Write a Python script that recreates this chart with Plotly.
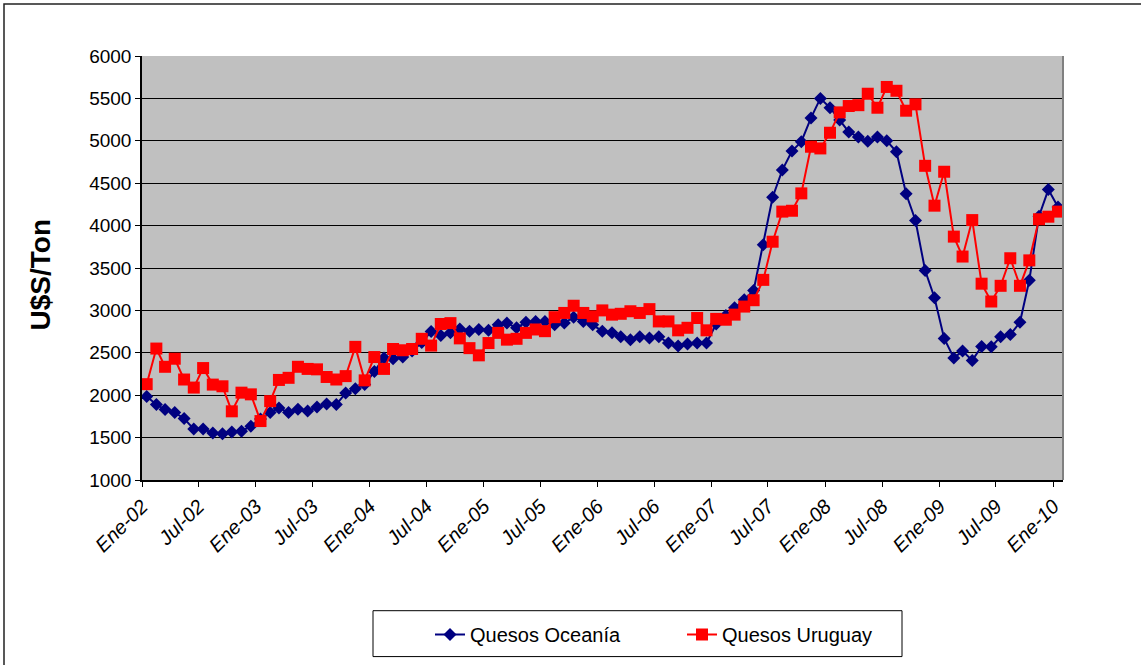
import pandas as pd
import plotly.graph_objects as go

# Monthly series Jan-2002 .. Jan-2010 (97 months)
months = pd.date_range("2002-01-01", periods=97, freq="MS")

oceania = [
    1985, 1890, 1830, 1795, 1725, 1600, 1600, 1555, 1545, 1565, 1575, 1635,
    1720, 1795, 1850, 1795, 1835, 1815, 1860, 1895, 1890, 2025, 2075, 2125,
    2280, 2440, 2430, 2450, 2520, 2620, 2750, 2705, 2735, 2780, 2755, 2775,
    2765, 2830, 2850, 2795, 2860, 2870, 2870, 2830, 2850, 2920, 2870, 2830,
    2755, 2735, 2690, 2655, 2690, 2675, 2690, 2615, 2580, 2605, 2615, 2615,
    2840, 2940, 3030, 3125, 3235, 3775, 4335, 4655, 4880, 4990, 5270, 5500,
    5390, 5245, 5105, 5045, 4995, 5045, 5000, 4870, 4375, 4060, 3470, 3150,
    2670, 2440, 2520, 2410, 2575, 2570, 2690, 2715, 2860, 3355, 4110, 4425,
    4220,
]

uruguay = [
    2130, 2550, 2335, 2430, 2185, 2090, 2320, 2125, 2105, 1810, 2030, 2010,
    1695, 1930, 2180, 2205, 2335, 2310, 2305, 2215, 2185, 2225, 2570, 2175,
    2450, 2310, 2545, 2530, 2545, 2665, 2585, 2840, 2850, 2670, 2555, 2470,
    2615, 2735, 2655, 2665, 2735, 2775, 2755, 2920, 2970, 3055, 2970, 2930,
    3000, 2950, 2960, 2990, 2970, 3015, 2870, 2870, 2765, 2795, 2910, 2765,
    2900, 2890, 2950, 3045, 3120, 3360, 3810, 4165, 4175, 4380, 4930, 4910,
    5095, 5335, 5410, 5420, 5555, 5390, 5635, 5590, 5355, 5430, 4705, 4235,
    4635, 3870, 3635, 4065, 3315, 3105, 3290, 3615, 3290, 3590, 4075, 4105,
    4165,
]

tick_dates = pd.date_range("2002-01-01", "2010-01-01", freq="6MS")
tick_labels = ["Ene-02", "Jul-02", "Ene-03", "Jul-03", "Ene-04", "Jul-04",
               "Ene-05", "Jul-05", "Ene-06", "Jul-06", "Ene-07", "Jul-07",
               "Ene-08", "Jul-08", "Ene-09", "Jul-09", "Ene-10"]
y_ticks = [1000, 1500, 2000, 2500, 3000, 3500, 4000, 4500, 5000, 5500, 6000]

series_names = ["Quesos Oceanía", "Quesos Uruguay"]

# points sit in the middle of each month slot
x_pts = months + pd.Timedelta(days=15)

FONT = "Liberation Sans, Arial, sans-serif"

fig = go.Figure()
fig.add_trace(go.Scatter(
    x=x_pts, y=oceania, name=series_names[0], mode="lines+markers",
    line=dict(color="#000080", width=2),
    marker=dict(symbol="diamond", size=10, color="#000080"),
))
fig.add_trace(go.Scatter(
    x=x_pts, y=uruguay, name=series_names[1], mode="lines+markers",
    line=dict(color="#FF0000", width=2),
    marker=dict(symbol="square", size=12, color="#FF0000"),
))

W, H = 1141, 665
L, R, T, B = 142, 1063, 56, 481

def px_x(p):
    return (p - L) / (R - L)

def px_y(p):
    return (B - p) / (B - T)

fig.update_layout(
    width=W, height=H,
    margin=dict(l=L, r=W - R, t=T, b=H - B, pad=0),
    paper_bgcolor="white",
    plot_bgcolor="#C0C0C0",
    font=dict(family=FONT, size=18, color="black"),
    showlegend=True,
    legend=dict(
        orientation="h",
        x=px_x(430), xanchor="left",
        y=px_y(615), yanchor="top",
        bgcolor="rgba(0,0,0,0)", borderwidth=0,
        font=dict(family=FONT, size=20, color="black"),
        entrywidth=207, entrywidthmode="pixels",
        itemsizing="trace",
    ),
    xaxis=dict(
        type="date",
        range=["2002-01-01", "2010-02-01"],
        tickmode="array", tickvals=tick_dates, ticktext=tick_labels,
        tickangle=-45,
        tickfont=dict(family=FONT, size=20, style="italic"),
        ticks="outside", ticklen=5, tickcolor="black", tickwidth=1,
        showgrid=False, zeroline=False,
        showline=True, linecolor="black", linewidth=1.5,
    ),
    yaxis=dict(
        range=[1000, 6000],
        tickmode="array", tickvals=y_ticks,
        tickfont=dict(family=FONT, size=19),
        ticks="outside", ticklen=5, tickcolor="black", tickwidth=1,
        showgrid=True, gridcolor="black", gridwidth=1,
        zeroline=False,
        showline=True, linecolor="black", linewidth=1.5,
    ),
    annotations=[dict(
        text="<b>U$S/Ton</b>", xref="paper", yref="paper",
        x=px_x(40), y=px_y(276), xanchor="center", yanchor="middle",
        textangle=-90, showarrow=False,
        font=dict(family=FONT, size=28, color="black"),
    )],
    shapes=[
        # right border of the plot area
        dict(type="line", xref="paper", yref="paper", x0=1, x1=1, y0=0, y1=1,
             line=dict(color="#808080", width=2)),
        # outer chart frame (right/bottom sides off-page)
        dict(type="rect", xref="paper", yref="paper",
             x0=px_x(4), x1=px_x(1200), y0=px_y(720), y1=px_y(4),
             line=dict(color="#222222", width=1.5), layer="below"),
        # legend box
        dict(type="rect", xref="paper", yref="paper",
             x0=px_x(373), x1=px_x(902), y0=px_y(658), y1=px_y(612),
             line=dict(color="black", width=1), fillcolor="white",
             layer="below"),
    ],
)

fig.write_html(
    "out.html",
    config={"displayModeBar": False},
    post_script="document.body.style.margin='0';document.body.style.overflow='hidden';",
)
